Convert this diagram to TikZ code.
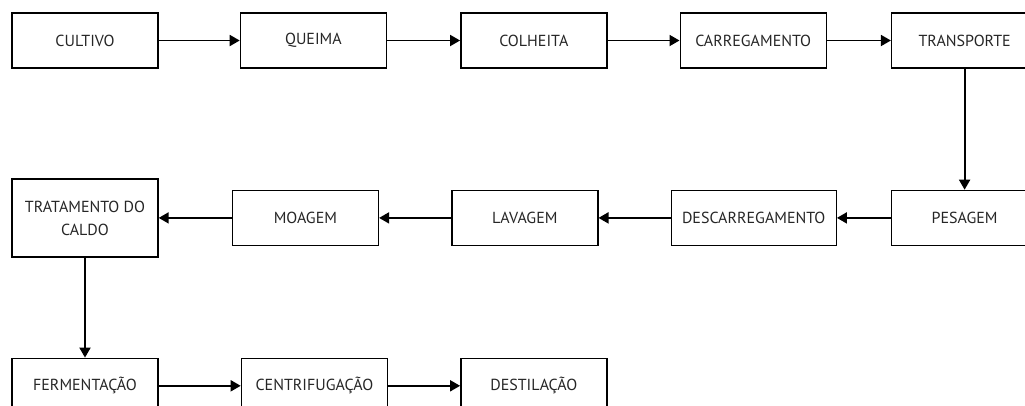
\documentclass[tikz,border=0pt]{standalone}
\usepackage{fontspec}
\setmainfont{PT Sans}
\usetikzlibrary{arrows.meta, positioning}

\begin{document}
\begin{tikzpicture}[
        x=1pt, y=-1pt,
        every node/.style={font=\fontsize{16}{23}\selectfont, text=black!85},
        stepbox/.style={rectangle, draw, line width=1.4pt, minimum width=146pt, minimum height=55pt, align=center, inner sep=0pt},
        arrow/.style={-{Triangle[length=10pt, width=11pt]}, line width=1.8pt}
    ]
        \useasboundingbox (0,0) rectangle (1025,405);
        % first row
        \node[stepbox] (cultivo) at (85,40.5) {CULTIVO};
        \node[stepbox, right=81pt of cultivo] (queima) {QUEIMA};
        \node[stepbox, right=73pt of queima] (colheita) {COLHEITA};
        \node[stepbox, right=72pt of colheita] (carregamento) {CARREGAMENTO};
        \node[stepbox, right=64pt of carregamento] (transporte) {TRANSPORTE};
        % second row
        \node[stepbox, below=121pt of transporte] (pesagem) {PESAGEM};
        \node[stepbox, minimum width=165pt, left=54pt of pesagem] (descarregamento) {DESCARREGAMENTO};
        \node[stepbox, left=72pt of descarregamento] (lavagem) {LAVAGEM};
        \node[stepbox, left=72pt of lavagem] (moagem) {MOAGEM};
        \node[stepbox, minimum height=78pt, left=73pt of moagem] (tratamento) {TRATAMENTO DO\\ CALDO};
        % third row
        \node[stepbox, below=100pt of tratamento] (fermentacao) {FERMENTAÇÃO};
        \node[stepbox, right=82pt of fermentacao] (centrifugacao) {CENTRIFUGAÇÃO};
        \node[stepbox, right=72pt of centrifugacao] (destilacao) {DESTILAÇÃO};
        \draw[arrow] (cultivo) -- (queima);
        \draw[arrow] (queima) -- (colheita);
        \draw[arrow] (colheita) -- (carregamento);
        \draw[arrow] (carregamento) -- (transporte);
        \draw[arrow] (transporte) -- (pesagem);
        \draw[arrow] (pesagem) -- (descarregamento);
        \draw[arrow] (descarregamento) -- (lavagem);
        \draw[arrow] (lavagem) -- (moagem);
        \draw[arrow] (moagem) -- (tratamento);
        \draw[arrow] (tratamento) -- (fermentacao);
        \draw[arrow] (fermentacao) -- (centrifugacao);
        \draw[arrow] (centrifugacao) -- (destilacao);
    \end{tikzpicture}
\end{document}
